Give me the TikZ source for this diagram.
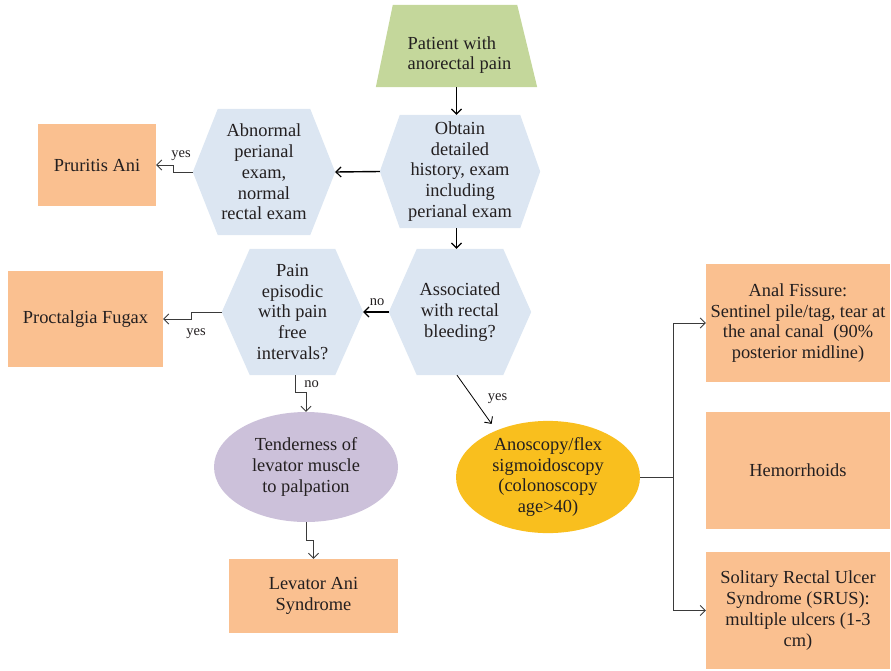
\documentclass[tikz,border=0pt]{standalone}
\usepackage{fontspec}
\setmainfont{Liberation Serif}
\usetikzlibrary{arrows.meta,shapes.geometric,backgrounds}

\definecolor{hexblue}{HTML}{DCE6F2}
\definecolor{peach}{HTML}{FAC090}
\definecolor{leafgreen}{HTML}{C4D79B}
\definecolor{lilac}{HTML}{CCC1DA}
\definecolor{amber}{HTML}{F9BF1E}
\definecolor{inktext}{HTML}{231F20}
\definecolor{linegrey}{HTML}{3A3A3A}

% fills a hexagon with pointed left/right ends inside the node's box
\newcommand\hexshape[2]{%
  \fill[hexblue] (#1.west) -- ([xshift=#2]#1.north west) -- ([xshift=-#2]#1.north east)
    -- (#1.east) -- ([xshift=-#2]#1.south east) -- ([xshift=#2]#1.south west) -- cycle;}

\tikzset{
  txt/.style={font=\fontsize{18.4}{20.8}\selectfont, text=inktext, align=center, inner sep=0pt},
  hexnode/.style={txt, draw=none},
  box/.style={txt, fill=peach},
  oval/.style={txt, shape=ellipse},
  lbl/.style={font=\fontsize{14.5}{16}\selectfont, text=inktext, inner sep=0pt, anchor=base},
  mainarrow/.style={line width=1.4pt, draw=black,
    -{Straight Barb[length=5pt,width=10pt,line width=1.2pt]}},
  thinarrow/.style={line width=0.9pt, draw=linegrey,
    -{Straight Barb[length=5pt,width=10pt,line width=0.9pt]}},
  thinline/.style={line width=1pt, draw=linegrey},
}

\begin{document}
\begin{tikzpicture}[x=1pt, y=-1pt]
\useasboundingbox (0,0) rectangle (891,670);

% start: trapezoid
\node[minimum width=161pt, minimum height=82pt, inner sep=0pt] (patient) at (456.5,46) {};
\node[txt, align=left] (patienttext) at (459.5,55) {Patient with\\anorectal pain};

% decision hexagons
\node[hexnode, minimum width=160pt, minimum height=113pt] (obtain) at (460,171.5)
  {Obtain\\detailed\\history, exam\\including\\perianal exam};
\node[hexnode, minimum width=142pt, minimum height=126pt] (abnormal) at (264,172)
  {Abnormal\\perianal\\exam,\\normal\\rectal exam};
\node[hexnode, minimum width=142pt, minimum height=126pt] (associated) at (460,312)
  {Associated\\with rectal\\bleeding?};
\node[hexnode, minimum width=141pt, minimum height=126pt] (pain) at (292.5,312)
  {Pain\\episodic\\with pain\\free\\intervals?};

% outcome boxes
\node[box, minimum width=118pt, minimum height=82pt] (pruritis) at (97,165) {Pruritis Ani};
\node[box, minimum width=155pt, minimum height=96pt] (proctalgia) at (85.5,319) {Proctalgia Fugax};
\node[box, minimum width=169pt, minimum height=74pt] (levator) at (313.5,596) {Levator Ani\\Syndrome};
\node[box, minimum width=184pt, minimum height=118pt] (fissure) at (798,323)
  {Anal Fissure:\\Sentinel pile/tag, tear at\\the anal canal~~(90\%\\posterior midline)};
\node[box, minimum width=184pt, minimum height=117pt] (hemorrhoids) at (798,470.5) {Hemorrhoids};
\node[box, minimum width=184pt, minimum height=117pt] (srus) at (798,610.5)
  {Solitary Rectal Ulcer\\Syndrome (SRUS):\\multiple ulcers (1-3\\cm)};

% ovals
\node[oval, fill=lilac, minimum width=184pt, minimum height=110pt] (tenderness) at (306,467)
  {Tenderness of\\levator muscle\\to palpation};
\node[oval, fill=amber, minimum width=184pt, minimum height=102pt] (anoscopy) at (548,477)
  {Anoscopy/flex\\sigmoidoscopy\\(colonoscopy\\age>40)};

% shape fills behind the text
\begin{pgfonlayer}{background}
  \fill[leafgreen] (patient.south west) -- ([xshift=17pt]patient.north west)
    -- ([xshift=-20pt]patient.north east) -- (patient.south east) -- cycle;
  \hexshape{obtain}{20pt}
  \hexshape{abnormal}{25pt}
  \hexshape{associated}{28pt}
  \hexshape{pain}{28pt}
\end{pgfonlayer}

% main flow
\draw[mainarrow] (patient.south) -- (patient.south |- obtain.north);
\draw[mainarrow] (obtain.west) -- (abnormal.east);
\draw[mainarrow] (patient.south |- obtain.south) -- (patient.south |- associated.north);
\draw[mainarrow] (associated.west) -- (pain.east);

% side branches
\draw[thinarrow] (abnormal.west) -- ++(-19,0) |- (pruritis.east);
\draw[thinarrow] (pain.west) -- ++(-30,0) |- (proctalgia.east);
\draw[thinarrow] ([xshift=2.5pt]pain.south) -- ++(0,17) -| (tenderness.north);
\draw[thinarrow] (tenderness.south) -- ++(0,18) -| (levator.north);
\draw[thinarrow, draw=black, line width=0.8pt, shorten >=8pt]
  ([xshift=-3pt]associated.south) -- (anoscopy.138);

% fan-out to the right-hand boxes
\coordinate (split) at (673,477);
\draw[thinline] (anoscopy.east) -- (split);
\draw[thinarrow] (split) |- (fissure.west);
\draw[thinarrow] (split) |- (srus.west);

% branch labels
\node[lbl] (yes1) at (181,157) {yes};
\node[lbl] (no1) at (377,305) {no};
\node[lbl] (yes2) at (196,335) {yes};
\node[lbl] (no2) at (311.5,387) {no};
\node[lbl] (yes3) at (497.5,400) {yes};
\end{tikzpicture}
\end{document}
